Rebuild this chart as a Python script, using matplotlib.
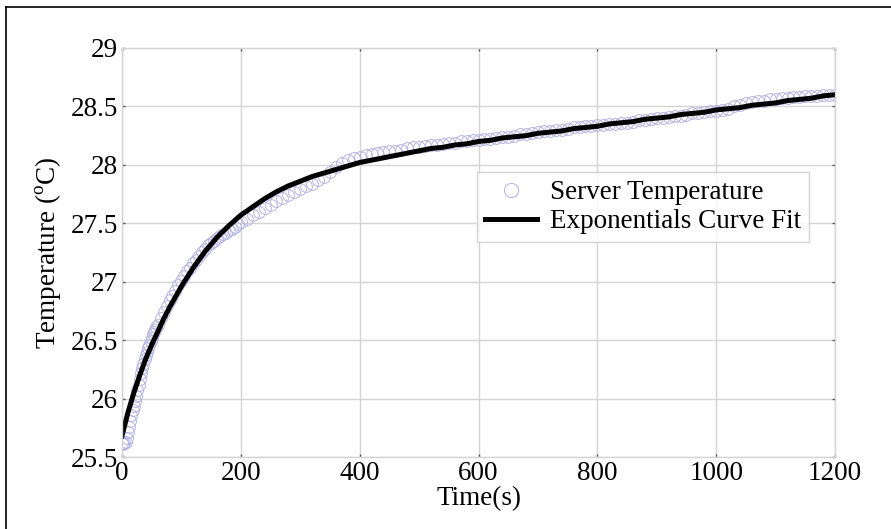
#name:          plot.py
#description:   server temperature vs time with exponential curve fit (recreated chart)

import numpy as np
import matplotlib
matplotlib.use("Agg")
import matplotlib.pyplot as plt
from matplotlib.lines import Line2D

# measured server temperature samples (degC)
time_a = np.arange(0, 61, 2)        # 0..60 s
temp_a = [25.62, 25.61, 25.62, 25.63, 25.66, 25.71, 25.76, 25.81, 25.86, 25.90,
          25.94, 25.98, 26.02, 26.07, 26.12, 26.17, 26.22, 26.26, 26.30, 26.34,
          26.37, 26.40, 26.43, 26.46, 26.49, 26.52, 26.55, 26.57, 26.59, 26.61, 26.63]
time_b = np.arange(65, 201, 5)      # 65..200 s
temp_b = [26.69, 26.74, 26.79, 26.84, 26.88, 26.92, 26.97, 27.01, 27.05, 27.09,
          27.12, 27.16, 27.19, 27.22, 27.25, 27.28, 27.31, 27.33, 27.35, 27.37,
          27.39, 27.41, 27.42, 27.44, 27.45, 27.47, 27.49, 27.51]
time_c = np.arange(210, 1201, 10)   # 210..1200 s
temp_c = [27.54, 27.57, 27.60, 27.63, 27.66, 27.69, 27.72, 27.74, 27.77, 27.79,
          27.82, 27.84, 27.87, 27.90, 27.94, 27.98, 28.02, 28.04, 28.06, 28.07,
          28.08, 28.09, 28.10, 28.11, 28.12, 28.12, 28.13, 28.14, 28.15, 28.15,
          28.16, 28.17, 28.17, 28.18, 28.19, 28.19, 28.20, 28.20, 28.21, 28.21,
          28.22, 28.22, 28.23, 28.24, 28.24, 28.25, 28.26, 28.26, 28.27, 28.28,
          28.29, 28.29, 28.30, 28.30, 28.31, 28.32, 28.32, 28.33, 28.33, 28.34,
          28.34, 28.35, 28.35, 28.36, 28.36, 28.37, 28.38, 28.38, 28.39, 28.40,
          28.40, 28.41, 28.42, 28.42, 28.43, 28.44, 28.44, 28.45, 28.46, 28.46,
          28.47, 28.48, 28.50, 28.51, 28.53, 28.54, 28.55, 28.55, 28.56, 28.56,
          28.57, 28.57, 28.58, 28.58, 28.59, 28.59, 28.59, 28.60, 28.60, 28.60]

# exponential curve fit
fit_time = [0, 10, 20, 30, 40, 50, 60, 70, 80, 90, 100,
            120, 140, 160, 180, 200, 220, 240, 260, 280, 300, 320, 340, 360, 380, 400,
            420, 440, 460, 480, 500, 520, 540, 560, 580, 600, 620, 640, 660, 680, 700,
            720, 740, 760, 780, 800, 820, 840, 860, 880, 900, 920, 940, 960, 980, 1000,
            1020, 1040, 1060, 1080, 1100, 1120, 1140, 1160, 1180, 1200]
fit_temp = [25.68, 25.88, 26.05, 26.20, 26.34, 26.46, 26.57, 26.68, 26.78, 26.87, 26.96,
            27.12, 27.26, 27.38, 27.48, 27.57, 27.64, 27.71, 27.77, 27.82, 27.86, 27.90, 27.93, 27.96, 27.99, 28.02,
            28.04, 28.06, 28.08, 28.10, 28.12, 28.14, 28.15, 28.17, 28.18, 28.20, 28.21, 28.23, 28.24, 28.25, 28.27,
            28.28, 28.29, 28.31, 28.32, 28.33, 28.35, 28.36, 28.37, 28.39, 28.40, 28.41, 28.43, 28.44, 28.45, 28.47,
            28.48, 28.49, 28.51, 28.52, 28.53, 28.55, 28.56, 28.57, 28.59, 28.60]

xticks = [0, 200, 400, 600, 800, 1000, 1200]
yticks = [25.5, 26, 26.5, 27, 27.5, 28, 28.5, 29]
yticklabels = ["25.5", "26", "26.5", "27", "27.5", "28", "28.5", "29"]

###########################################################################
def main():
    plt.rcParams["font.family"] = ["Liberation Serif", "DejaVu Serif"]
    plt.rcParams["mathtext.fontset"] = "custom"
    plt.rcParams["mathtext.rm"] = "Liberation Serif"
    fsize = 19.5

    fig = plt.figure(figsize=(8.91, 5.29), dpi=100)
    ax = fig.add_axes([0.1369, 0.1361, 0.8003, 0.7732])

    t = np.concatenate([time_a, time_b, time_c])
    temp = np.concatenate([temp_a, temp_b, temp_c])

    ax.plot(t, temp, linestyle="none", marker="o", markersize=8.5, markerfacecolor="none",
            markeredgecolor="#b4b4e4", markeredgewidth=0.7, label="Server Temperature")
    ax.plot(fit_time, fit_temp, color="black", linewidth=3.6, label="Exponentials Curve Fit")

    ax.set_xlim(0, 1200)
    ax.set_ylim(25.5, 29)
    ax.set_xticks(xticks)
    ax.set_yticks(yticks)
    ax.set_yticklabels(yticklabels)

    # matlab style grid and box
    ax.grid(True, color="#d4d4d4", linewidth=1.0)
    ax.set_axisbelow(True)
    for s in ax.spines.values():
        s.set_color("#d4d4d4")
        s.set_linewidth(1.0)
    ax.tick_params(direction="in", length=2, width=1, color="#555555", labelsize=fsize,
                   top=True, right=True, pad=3)

    ax.set_xlabel("Time(s)", fontsize=fsize, labelpad=0)
    ax.set_ylabel("Temperature ($^{\\mathrm{o}}$C)", fontsize=fsize, labelpad=5)

    leg = ax.legend(loc="upper left", bbox_to_anchor=(0.498, 0.697), fontsize=fsize,
                    frameon=True, fancybox=False, handlelength=1.9, handletextpad=0.5,
                    borderpad=0.3, labelspacing=0.15, borderaxespad=0, markerscale=1.2)
    leg.get_frame().set_edgecolor("#c8c8c8")
    leg.get_frame().set_linewidth(1.0)

    # outer frame on top and left edge of the picture
    fig.add_artist(Line2D([6 / 891, 1], [1 - 7 / 529, 1 - 7 / 529], color="black", linewidth=1.2))
    fig.add_artist(Line2D([6 / 891, 6 / 891], [0, 1 - 7 / 529], color="black", linewidth=1.2))

    fig.savefig("out.png", dpi=100)

###########################################################################
if __name__ == "__main__":
    main()
